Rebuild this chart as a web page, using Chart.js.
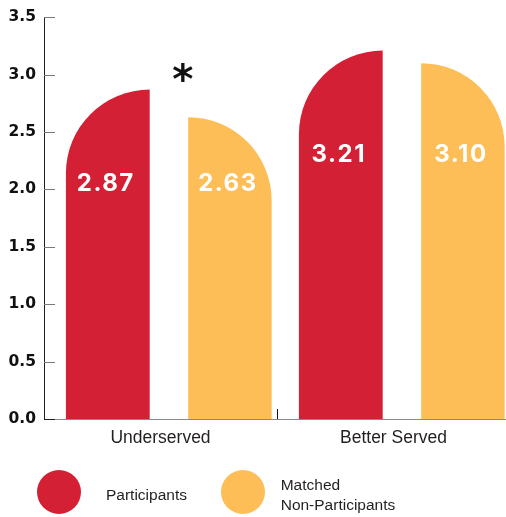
<!DOCTYPE html>
<html><head><meta charset="utf-8">
<script src="https://cdn.jsdelivr.net/npm/chart.js@4.4.1/dist/chart.umd.min.js"></script>
<style>
html,body{margin:0;padding:0;background:#fff;overflow:hidden;width:506px;height:517px;}
#wrap{position:relative;width:510px;height:517px;}
#c{display:block;}
.dot{position:absolute;width:44px;height:44px;border-radius:50%;}
.lt{position:absolute;font-family:"Liberation Sans",Arial,sans-serif;font-size:15.5px;line-height:20px;color:#231f20;white-space:nowrap;}
</style></head><body>
<div id="wrap">
<canvas id="c" width="510" height="517" style="width:510px;height:517px"></canvas>
<div class="dot" style="left:36.7px;top:470.3px;background:#D42035"></div>
<div class="lt" style="left:106px;top:484.6px">Participants</div>
<div class="dot" style="left:221px;top:469.5px;background:#FDBD57"></div>
<div class="lt" style="left:280.7px;top:474.6px">Matched<br>Non-Participants</div>
</div>
<script>
const categories = ['Underserved', 'Better Served'];
const participants = [2.87, 3.21];
const nonParticipants = [2.63, 3.10];
const significance = ['*', ''];
const yTicks = [0, 0.5, 1, 1.5, 2, 2.5, 3, 3.5];
const seriesNames = ['Participants', 'Matched Non-Participants'];

const RED = '#D42035', YELLOW = '#FDBD57';

const roundedBars = {
  id: 'roundedBars',
  beforeDatasetDraw(chart, args) {
    const ctx = chart.ctx;
    const ds = chart.data.datasets[args.index];
    ctx.save();
    ctx.fillStyle = ds.backgroundColor;
    args.meta.data.forEach(el => {
      const x = el.x, y = el.y, base = el.base, w = el.width;
      const L = x - w / 2, R = x + w / 2;
      const r = Math.min(w, base - y);
      ctx.beginPath();
      if (ds.roundSide === 'left') {
        ctx.moveTo(R, base); ctx.lineTo(R, y);
        ctx.arc(R, y + r, r, -Math.PI / 2, Math.PI, true);
        ctx.lineTo(L, base);
      } else {
        ctx.moveTo(L, base); ctx.lineTo(L, y);
        ctx.arc(L, y + r, r, -Math.PI / 2, 0, false);
        ctx.lineTo(R, base);
      }
      ctx.closePath();
      ctx.fill();
    });
    ctx.restore();
    return false;
  }
};

const innerTicks = {
  id: 'innerTicks',
  afterDraw(chart) {
    const ctx = chart.ctx, ys = chart.scales.y, xs = chart.scales.x, a = chart.chartArea;
    ctx.save();
    ctx.lineWidth = 1;
    ys.ticks.forEach(t => {
      const py = Math.round(ys.getPixelForValue(t.value)) + 0.5;
      ctx.strokeStyle = t.value === 0 ? '#231f20' : '#7a7a7a';
      ctx.beginPath(); ctx.moveTo(a.left, py); ctx.lineTo(a.left + 11, py); ctx.stroke();
    });
    for (let i = 0; i < categories.length - 1; i++) {
      const px = Math.round((xs.getPixelForValue(i) + xs.getPixelForValue(i + 1)) / 2) + 0.5;
      ctx.strokeStyle = '#111';
      ctx.beginPath(); ctx.moveTo(px, a.bottom - 10); ctx.lineTo(px, a.bottom); ctx.stroke();
    }
    ctx.restore();
  }
};

const valueLabels = {
  id: 'valueLabels',
  afterDatasetsDraw(chart) {
    const ctx = chart.ctx, ys = chart.scales.y;
    ctx.save();
    ctx.fillStyle = '#fff';
    const size = 24;
    ctx.font = '700 ' + size + 'px Inter, "DejaVu Sans", sans-serif';
    try { ctx.letterSpacing = '1.5px'; } catch (e) {}
    ctx.textAlign = 'center';
    ctx.textBaseline = 'alphabetic';
    chart.data.datasets.forEach((ds, di) => {
      chart.getDatasetMeta(di).data.forEach((el, i) => {
        const groupMax = Math.max(...chart.data.datasets.map(d => d.data[i]));
        const cy = ys.getPixelForValue(groupMax * 0.72);
        ctx.fillText(ds.data[i].toFixed(2), el.x - 2, cy + size * 0.727 / 2);
      });
    });
    try { ctx.letterSpacing = '0px'; } catch (e) {}
    // significance marker
    const m0 = chart.getDatasetMeta(0).data, m1 = chart.getDatasetMeta(1).data;
    ctx.textAlign = 'left';
    significance.forEach((s, i) => {
      if (!s) return;
      ctx.fillStyle = '#111';
      ctx.font = '700 100px "DejaVu Sans", sans-serif';
      const m = ctx.measureText(s);
      const h = m.actualBoundingBoxAscent + m.actualBoundingBoxDescent;
      const fs = 100 * 19 / h;
      ctx.font = '700 ' + fs + 'px "DejaVu Sans", sans-serif';
      const mm = ctx.measureText(s);
      const cx = m1[i].x - m1[i].width / 2 - 5.5;
      const cy = m0[i].y - 18;
      const gx = cx - (mm.actualBoundingBoxRight - mm.actualBoundingBoxLeft) / 2;
      const gy = cy + (mm.actualBoundingBoxAscent - mm.actualBoundingBoxDescent) / 2;
      ctx.fillText(s, gx, gy);
    });
    ctx.restore();
  }
};

new Chart(document.getElementById('c'), {
  type: 'bar',
  data: {
    labels: categories,
    datasets: [
      { label: seriesNames[0], data: participants, backgroundColor: RED, roundSide: 'left',
        categoryPercentage: 0.9047, barPercentage: 0.795 },
      { label: seriesNames[1], data: nonParticipants, backgroundColor: YELLOW, roundSide: 'right',
        categoryPercentage: 1.192, barPercentage: 0.601 }
    ]
  },
  options: {
    responsive: false,
    animation: false,
    devicePixelRatio: 1,
    layout: { padding: { top: 14, right: 0, bottom: 0, left: 0 } },
    plugins: { legend: { display: false }, tooltip: { enabled: false } },
    scales: {
      x: {
        grid: { display: false, drawTicks: false },
        border: { display: true, color: '#8a8a8a', width: 1 },
        ticks: { font: { family: '"Liberation Sans", Arial, sans-serif', size: 17.5 }, color: '#231f20', padding: 9 },
        afterFit: s => { s.height = 98; }
      },
      y: {
        min: 0, max: 3.5,
        afterBuildTicks: s => { s.ticks = yTicks.map(v => ({ value: v })); },
        ticks: { callback: v => Number(v).toFixed(1), font: { family: '"DejaVu Sans", sans-serif', weight: 'bold', size: 15.5 }, color: '#111', padding: 8 },
        grid: { display: false, drawTicks: false },
        border: { display: true, color: '#231f20', width: 1 },
        afterFit: s => { s.width = 44; }
      }
    }
  },
  plugins: [roundedBars, innerTicks, valueLabels]
});
</script>
</body></html>
